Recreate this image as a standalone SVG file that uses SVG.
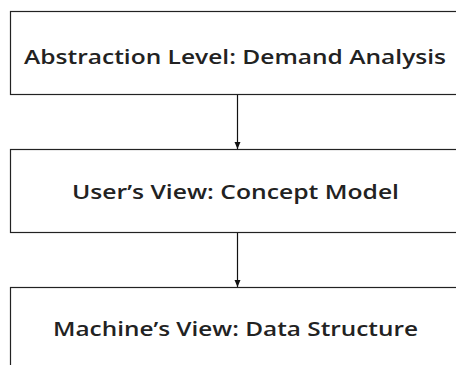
<svg xmlns="http://www.w3.org/2000/svg" width="456" height="365" viewBox="0 0 456 365">
<style>
.box{fill:#fff;stroke:#222;stroke-width:1.2}
.lbl{font-family:"Open Sans","Noto Sans",sans-serif;font-size:20px;font-weight:600;fill:#222;text-anchor:middle}
.edge{stroke:#111;stroke-width:1.2;fill:none}
</style>
<defs>
<marker id="arr" markerWidth="8" markerHeight="8" refX="7" refY="4" orient="auto" markerUnits="userSpaceOnUse">
<path d="M0,1 L7,4 L0,7 Z" fill="#111"/>
</marker>
</defs>
<rect width="456" height="365" fill="#fff"/>
<g id="n1"><rect class="box" x="10.5" y="11.5" width="454" height="83"/><text class="lbl" x="235" y="64" textLength="422" lengthAdjust="spacingAndGlyphs">Abstraction Level: Demand Analysis</text></g>
<g id="n2"><rect class="box" x="10.5" y="149.5" width="454" height="83"/><text class="lbl" x="235.5" y="199" textLength="327" lengthAdjust="spacingAndGlyphs">User’s View: Concept Model</text></g>
<g id="n3"><rect class="box" x="10.5" y="287.5" width="454" height="83"/><text class="lbl" x="235.5" y="336" textLength="365" lengthAdjust="spacingAndGlyphs">Machine’s View: Data Structure</text></g>
<g id="edges">
<line class="edge" x1="237.5" y1="95" x2="237.5" y2="149" marker-end="url(#arr)"/>
<line class="edge" x1="237.5" y1="233" x2="237.5" y2="287" marker-end="url(#arr)"/>
</g>
</svg>
